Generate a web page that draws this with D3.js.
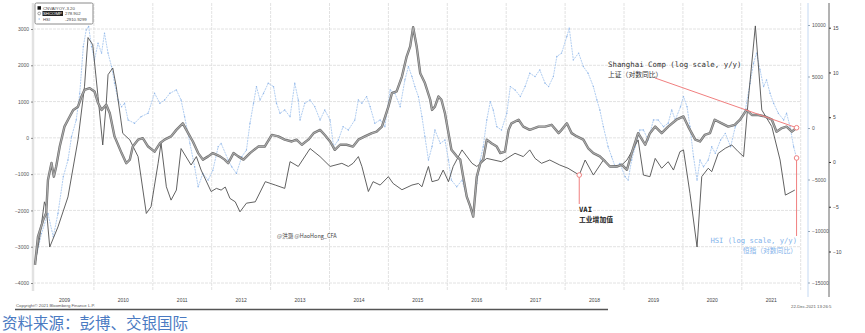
<!DOCTYPE html>
<html><head><meta charset="utf-8">
<script src="https://cdn.jsdelivr.net/npm/d3@7"></script>
<style>
html,body{margin:0;padding:0;background:#fff;}
svg{display:block;}
</style></head>
<body>
<svg id="c" width="865" height="333"></svg>
<script>
// ---------- DATA (decimal year, value) ----------
const yearLabels = ["2009","2010","2011","2012","2013","2014","2015","2016","2017","2018","2019","2020","2021"];
const leftTicks = [3000,2000,1000,0,-1000,-2000,-3000,-4000];
const hsiTicks = [10000,5000,0,-5000,-10000,-15000];
const vaiTicks = [15,10,5,0,-5,-10];

const shcompDates = [2009.00,2009.05,2009.14,2009.19,2009.22,2009.28,2009.32,2009.36,2009.42,2009.50,2009.59,2009.65,2009.73,2009.79,2009.84,2009.93,2010.01,2010.07,2010.13,2010.21,2010.27,2010.35,2010.47,2010.55,2010.61,2010.66,2010.75,2010.83,2010.92,2011.03,2011.12,2011.20,2011.31,2011.40,2011.51,2011.60,2011.68,2011.77,2011.85,2011.94,2012.02,2012.14,2012.22,2012.28,2012.37,2012.45,2012.54,2012.65,2012.79,2012.90,2013.02,2013.13,2013.24,2013.36,2013.44,2013.53,2013.64,2013.73,2013.84,2013.92,2014.01,2014.09,2014.18,2014.29,2014.40,2014.49,2014.60,2014.72,2014.80,2014.89,2015.00,2015.06,2015.14,2015.23,2015.31,2015.37,2015.42,2015.48,2015.54,2015.62,2015.71,2015.74,2015.79,2015.85,2015.90,2015.96,2016.02,2016.07,2016.16,2016.22,2016.27,2016.33,2016.39,2016.44,2016.50,2016.56,2016.61,2016.67,2016.75,2016.84,2016.90,2016.98,2017.04,2017.09,2017.21,2017.29,2017.40,2017.55,2017.66,2017.77,2017.89,2017.94,2018.03,2018.11,2018.20,2018.31,2018.39,2018.48,2018.59,2018.68,2018.76,2018.88,2018.96,2019.05,2019.13,2019.24,2019.36,2019.44,2019.53,2019.64,2019.75,2019.89,2020.01,2020.09,2020.21,2020.29,2020.37,2020.46,2020.54,2020.66,2020.77,2020.88,2020.97,2021.08,2021.17,2021.28,2021.39,2021.51,2021.59,2021.68,2021.76,2021.85,2021.93];
const shcompValues = [-3500,-2730,-2260,-2070,-1160,-690,-1070,-790,-240,310,590,770,860,1140,1320,1370,1280,960,770,910,680,40,-420,-700,-600,-240,-50,-10,-240,-380,-150,-50,40,220,400,130,-100,-420,-600,-510,-420,-510,-600,-700,-420,-510,-600,-420,-240,-240,80,40,-50,-100,-50,-190,-50,130,220,80,-100,-330,-190,-190,-240,-50,40,130,170,310,860,1230,1280,1690,2240,2520,3050,2520,1780,1510,1050,770,860,1140,1050,680,130,-330,-510,-600,-1070,-1620,-1890,-2170,-1070,-700,-600,-50,-150,-240,-420,-380,220,400,500,310,220,310,310,360,130,220,400,130,40,-50,-280,-420,-510,-650,-790,-790,-740,-880,-420,130,-190,130,310,130,310,500,590,310,-50,-100,80,130,500,400,310,360,500,770,630,630,590,500,170,270,310,170,279];

const hsiDates = [2009.00,2009.11,2009.22,2009.31,2009.39,2009.48,2009.56,2009.62,2009.70,2009.76,2009.82,2009.87,2009.91,2009.96,2010.01,2010.07,2010.13,2010.18,2010.24,2010.30,2010.35,2010.41,2010.47,2010.52,2010.58,2010.69,2010.80,2010.92,2011.03,2011.12,2011.20,2011.29,2011.40,2011.48,2011.54,2011.63,2011.71,2011.77,2011.85,2011.94,2012.02,2012.11,2012.16,2012.28,2012.34,2012.42,2012.51,2012.59,2012.65,2012.71,2012.76,2012.82,2012.88,2012.96,2013.05,2013.10,2013.16,2013.24,2013.33,2013.41,2013.47,2013.50,2013.58,2013.67,2013.75,2013.84,2013.92,2014.01,2014.07,2014.15,2014.23,2014.32,2014.43,2014.49,2014.55,2014.63,2014.69,2014.77,2014.86,2014.94,2015.03,2015.11,2015.20,2015.28,2015.34,2015.40,2015.45,2015.51,2015.57,2015.62,2015.68,2015.74,2015.79,2015.88,2015.96,2016.02,2016.07,2016.16,2016.25,2016.33,2016.39,2016.44,2016.50,2016.56,2016.61,2016.67,2016.73,2016.78,2016.84,2016.92,2017.01,2017.07,2017.15,2017.24,2017.32,2017.40,2017.49,2017.57,2017.66,2017.72,2017.80,2017.86,2017.94,2018.03,2018.07,2018.14,2018.23,2018.31,2018.39,2018.48,2018.54,2018.59,2018.65,2018.73,2018.79,2018.85,2018.93,2019.02,2019.07,2019.13,2019.19,2019.27,2019.33,2019.41,2019.50,2019.58,2019.67,2019.75,2019.81,2019.87,2019.96,2020.01,2020.07,2020.12,2020.18,2020.24,2020.29,2020.35,2020.43,2020.49,2020.55,2020.64,2020.72,2020.81,2020.89,2020.97,2021.06,2021.14,2021.20,2021.25,2021.31,2021.37,2021.42,2021.48,2021.54,2021.62,2021.71,2021.76,2021.82,2021.88,2021.93];
const hsiValues = [-13000,-10250,-8300,-10570,-8300,-4740,-3110,-850,780,3370,7910,9530,9860,7910,6610,8240,7270,9210,7270,5960,4350,2720,2070,2400,780,460,1100,1430,3370,2400,2720,3370,3700,2720,1100,-1490,-3760,-5710,-4410,-5060,-4090,-1820,-1490,-3110,-3760,-4410,-2790,-2140,460,2400,4020,2720,3370,4350,4020,2400,1430,1750,1100,4350,2720,780,2400,2720,2070,780,1750,780,-1820,-1170,130,-190,780,2720,2400,3050,2070,460,780,130,3700,3370,2070,4670,5960,4990,4020,3050,1100,-850,-3110,-1820,-190,-1490,-1170,-3110,-5060,-5710,-5060,-6680,-7660,-8300,-5380,-3110,-1820,780,2560,1750,130,-190,1430,4020,3700,3050,4020,5320,4990,5640,4350,4020,4990,6940,7270,8880,9700,6610,7270,5960,5320,4020,2720,1750,130,-1820,-2790,-3760,-3430,-4740,-5060,-3110,-1820,-190,-190,-1170,780,780,130,460,1750,780,2070,3050,2070,130,-2790,-5060,-3110,-3760,-3110,-1820,-2460,-1170,-520,-1820,130,780,1750,4350,6290,7270,5640,4020,4670,3370,2400,1430,780,1430,130,-1820,-2911];

const vaiDates = [2009.00,2009.08,2009.16,2009.19,2009.25,2009.39,2009.56,2009.73,2009.84,2009.90,2009.98,2010.07,2010.15,2010.21,2010.24,2010.32,2010.38,2010.49,2010.61,2010.75,2010.89,2010.97,2011.09,2011.14,2011.23,2011.31,2011.40,2011.48,2011.65,2011.74,2011.82,2011.99,2012.08,2012.16,2012.23,2012.31,2012.40,2012.48,2012.59,2012.74,2012.91,2013.08,2013.24,2013.33,2013.47,2013.67,2013.84,2014.01,2014.21,2014.32,2014.40,2014.49,2014.55,2014.66,2014.74,2014.86,2015.00,2015.08,2015.23,2015.40,2015.51,2015.57,2015.64,2015.68,2015.74,2015.85,2015.93,2016.02,2016.10,2016.25,2016.42,2016.50,2016.67,2016.92,2017.15,2017.29,2017.40,2017.49,2017.60,2017.74,2017.91,2018.05,2018.24,2018.34,2018.48,2018.65,2018.76,2018.96,2019.05,2019.13,2019.24,2019.33,2019.44,2019.53,2019.64,2019.75,2019.84,2019.95,2020.01,2020.12,2020.24,2020.32,2020.43,2020.49,2020.60,2020.72,2020.83,2020.94,2021.03,2021.11,2021.23,2021.34,2021.51,2021.65,2021.74,2021.90];
const vaiValues = [-11.4,-8.4,-4.45,-5.0,-9.5,-7.25,-3.9,2.47,8.4,13.9,13.1,7.3,1.9,6.6,9.75,10.5,8.4,3.2,2.47,0.6,-5.75,-5.0,-0.15,2.1,-2.77,-4.26,-3.14,1.5,-0.34,0.6,-0.9,-3.3,-2.95,-3.14,-2.8,-4.07,-4.45,-5.57,-4.6,-4.45,-2.2,-2.58,-2.95,0.04,-0.5,1.5,0.6,-0.5,-0.15,-0.5,-0.15,0.6,-0.5,-3.3,-2.2,-2.58,-1.64,-2.4,-3.1,-2.58,-2.4,-2.77,-1.27,-0.5,-2.2,-2.0,-0.9,-2.2,-0.5,1.35,-0.15,-0.5,0.4,0.03,0.97,0.6,1.35,0.4,-0.15,0.22,-0.34,-0.7,-1.46,0.22,-1.46,0.22,-0.5,-0.34,0.22,1.15,2.47,-1.46,-1.64,0.4,-0.7,0.03,-0.9,1.15,1.35,-3.5,-9.5,-1.64,-0.7,-1.08,0.97,1.53,1.9,1.15,0.6,6.95,15.2,5.8,3.95,0.22,-3.7,-3.14];

const legendNames = ["CNVAIYOY","SHCOMP","HSI"];
const legendValues = ["-3.20","278.902","-2910.9299"];
const vaiMarkDate = 2018.24, vaiMarkValue = -1.46;

// ---------- SCALES ----------
const svg = d3.select("#c");
const x = d3.scaleLinear().domain([2009, 2022]).range([35, 800.7]);
const yL = d3.scaleLinear().domain([-4000, 3000]).range([283, 29]);
const yB = d3.scaleLinear().domain([-15000, 10000]).range([282.5, 25]);
const yV = d3.scaleLinear().domain([-10, 15]).range([251.5, 27.7]);
const plotL = 33, plotR = 800, plotT = 3, plotB = 291;
const axisFont = "Liberation Sans, Arial, sans-serif";
const fmt = d3.format("d");

// grid horizontal
svg.append("g").selectAll("line").data(leftTicks).join("line")
  .attr("x1", plotL).attr("x2", plotR)
  .attr("y1", d => yL(d)).attr("y2", d => yL(d))
  .attr("stroke", "#dadada").attr("stroke-width", 0.8).attr("stroke-dasharray", "3,1");
// grid vertical at year boundaries
const yearBounds = d3.range(2010, 2023);
svg.append("g").selectAll("line").data(yearBounds).join("line")
  .attr("x1", d => x(d)).attr("x2", d => x(d))
  .attr("y1", plotT).attr("y2", plotB)
  .attr("stroke", "#dadada").attr("stroke-width", 0.8).attr("stroke-dasharray", "3,1");

// left axis
const gL = svg.append("g").attr("transform", `translate(${plotL},0)`)
  .call(d3.axisLeft(yL).tickValues(leftTicks).tickFormat(fmt).tickSize(2).tickPadding(2));
gL.select(".domain").attr("stroke", "#e2e2e2").attr("stroke-width", 2.5)
  .attr("d", `M0,${plotT}V${plotB}`);
gL.selectAll("text").attr("font-size", 5).attr("font-family", axisFont).attr("fill", "#555");
gL.selectAll(".tick line").attr("stroke", "#888");

// HSI axis
const gB = svg.append("g").attr("transform", "translate(808,0)")
  .call(d3.axisRight(yB).tickValues(hsiTicks).tickFormat(fmt).tickSize(2).tickPadding(2));
gB.select(".domain").attr("stroke", "#c4d9f3").attr("stroke-width", 1)
  .attr("d", `M0,${plotT}V297`);
gB.selectAll("text").attr("font-size", 5).attr("font-family", axisFont).attr("fill", "#555");
gB.selectAll(".tick line").attr("stroke", "#9ab");

// VAI axis
const gV = svg.append("g").attr("transform", "translate(829,0)")
  .call(d3.axisRight(yV).tickValues(vaiTicks).tickFormat(fmt).tickSize(2).tickPadding(2));
gV.select(".domain").attr("stroke", "#666").attr("stroke-width", 1)
  .attr("d", `M0,${plotT}V297`);
gV.selectAll("text").attr("font-size", 5).attr("font-family", axisFont).attr("fill", "#444");
gV.selectAll(".tick line").attr("stroke", "#333");

// x labels
svg.append("g").selectAll("text").data(yearLabels).join("text")
  .attr("x", d => x(+d + 0.5)).attr("y", 301.5)
  .attr("text-anchor", "middle").attr("font-size", 5).attr("font-family", axisFont).attr("fill", "#444")
  .text(d => d);

// ---------- LINES ----------
const lineL = d3.line().x((d,i) => x(shcompDates[i])).y(d => yL(d));
const lineB = d3.line().x((d,i) => x(hsiDates[i])).y(d => yB(d));
const lineV = d3.line().x((d,i) => x(vaiDates[i])).y(d => yV(d));

svg.append("path").attr("d", lineB(hsiValues)).attr("fill", "none")
  .attr("stroke", "#a9c8ef").attr("stroke-width", 0.9).attr("stroke-dasharray", "2,0.8");
svg.append("g").selectAll("circle").data(hsiValues).join("circle")
  .attr("cx", (d,i) => x(hsiDates[i])).attr("cy", d => yB(d)).attr("r", 0.7)
  .attr("fill", "#8fb5e8");

svg.append("path").attr("d", lineV(vaiValues)).attr("fill", "none")
  .attr("stroke", "#505050").attr("stroke-width", 0.9);

svg.append("path").attr("d", lineL(shcompValues)).attr("fill", "none")
  .attr("stroke", "#707070").attr("stroke-width", 2.4).attr("stroke-linejoin", "round");
svg.append("path").attr("d", lineL(shcompValues)).attr("fill", "none")
  .attr("stroke", "#ababab").attr("stroke-width", 1.1).attr("stroke-linejoin", "round");

// ---------- ANNOTATIONS ----------
const red = "#f07f7f";
const shEnd = [x(shcompDates[shcompDates.length-1]), yL(shcompValues[shcompValues.length-1])];
const hsiEnd = [x(hsiDates[hsiDates.length-1]), yB(hsiValues[hsiValues.length-1])];
const vaiPt = [x(vaiMarkDate), yV(vaiMarkValue)];

svg.append("line").attr("x1", 655).attr("y1", 78).attr("x2", shEnd[0]).attr("y2", shEnd[1])
  .attr("stroke", red).attr("stroke-width", 1);
svg.append("line").attr("x1", vaiPt[0]).attr("y1", vaiPt[1]).attr("x2", vaiPt[0]).attr("y2", 204)
  .attr("stroke", red).attr("stroke-width", 1);
svg.append("line").attr("x1", hsiEnd[0]).attr("y1", hsiEnd[1]).attr("x2", hsiEnd[0]).attr("y2", 236)
  .attr("stroke", red).attr("stroke-width", 1);
[shEnd, hsiEnd, vaiPt].forEach(p => {
  svg.append("circle").attr("cx", p[0]).attr("cy", p[1]).attr("r", 2.3)
    .attr("fill", "#fff").attr("stroke", red).attr("stroke-width", 1);
});

const mono = "DejaVu Sans Mono, Liberation Mono, monospace";
const cjk = "Noto Sans CJK SC, sans-serif";
svg.append("text").attr("x", 608).attr("y", 67).attr("font-family", mono).attr("font-size", 7.4)
  .attr("fill", "#333").text("Shanghai Comp (log scale, y/y)");
svg.append("text").attr("x", 608).attr("y", 76.5).attr("font-family", cjk).attr("font-size", 6.8)
  .attr("fill", "#333").text("上证（对数同比）");
svg.append("text").attr("x", 579).attr("y", 212).attr("font-family", mono).attr("font-size", 7.2)
  .attr("font-weight", "bold").attr("fill", "#222").text("VAI");
svg.append("text").attr("x", 579).attr("y", 221.5).attr("font-family", cjk).attr("font-size", 6.8)
  .attr("font-weight", "bold").attr("fill", "#222").text("工业增加值");
svg.append("text").attr("x", 797).attr("y", 243).attr("text-anchor", "end").attr("font-family", mono)
  .attr("font-size", 7.2).attr("fill", "#7fb2ea").text("HSI (log scale, y/y)");
svg.append("text").attr("x", 797).attr("y", 252.5).attr("text-anchor", "end").attr("font-family", cjk)
  .attr("font-size", 6.8).attr("fill", "#7fb2ea").text("恒指（对数同比）");
svg.append("text").attr("x", 277).attr("y", 238).attr("font-family", cjk).attr("font-size", 5.5)
  .attr("fill", "#444").text("@洪灏 @HaoHong_CFA");

// ---------- LEGEND ----------
const lg = svg.append("g");
lg.append("rect").attr("x", 35).attr("y", 3).attr("width", 58).attr("height", 21).attr("rx", 1.5)
  .attr("fill", "#fff").attr("stroke", "#8a8a8a").attr("stroke-width", 1);
const rowsY = [9.5, 15, 20.5];
lg.append("rect").attr("x", 37.5).attr("y", rowsY[0]-3.3).attr("width", 3.5).attr("height", 3.5).attr("fill", "#111");
lg.append("circle").attr("cx", 39.2).attr("cy", rowsY[1]-1.5).attr("r", 1.4).attr("fill", "none").attr("stroke", "#666").attr("stroke-width", 0.6);
lg.append("circle").attr("cx", 39.2).attr("cy", rowsY[2]-1.5).attr("r", 0.8).attr("fill", "#9fc0ea");
lg.append("rect").attr("x", 42.5).attr("y", rowsY[1]-4).attr("width", 20.5).attr("height", 5).attr("fill", "#222");
legendNames.forEach((n, i) => {
  lg.append("text").attr("x", 43).attr("y", rowsY[i]).attr("font-size", 4.3).attr("font-family", axisFont)
    .attr("fill", i === 1 ? "#fff" : "#444").text(n);
  lg.append("text").attr("x", 65).attr("y", rowsY[i]).attr("font-size", 4.3).attr("font-family", axisFont)
    .attr("fill", "#444").text(legendValues[i]);
});

// ---------- FOOTER ----------
svg.append("text").attr("x", 16).attr("y", 307).attr("font-size", 4.3).attr("font-family", axisFont)
  .attr("fill", "#555").text("Copyright© 2021 Bloomberg Finance L.P.");
svg.append("line").attr("x1", 15).attr("x2", 608).attr("y1", 309.5).attr("y2", 309.5)
  .attr("stroke", "#555").attr("stroke-width", 1.3);
svg.append("text").attr("x", 791).attr("y", 307.5).attr("font-size", 4.3).attr("font-family", axisFont)
  .attr("fill", "#555").text("22-Dec-2021 13:26:5");
svg.append("text").attr("x", 2).attr("y", 328.5).attr("font-size", 15.5).attr("font-family", cjk)
  .attr("fill", "#4a7ac2").text("资料来源：彭博、交银国际");
</script>
</body></html>
